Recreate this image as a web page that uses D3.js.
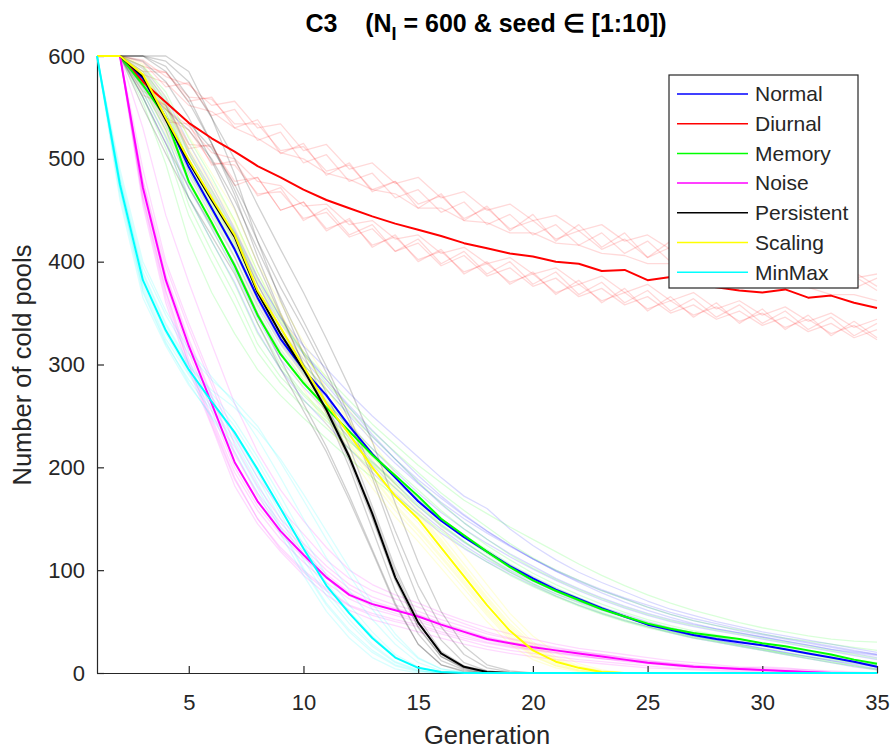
<!DOCTYPE html>
<html>
<head>
<meta charset="utf-8">
<script src="https://cdn.jsdelivr.net/npm/d3@7/dist/d3.min.js"></script>
<style>
  html, body { margin: 0; padding: 0; background: #fff; }
  svg { display: block; font-family: "Liberation Sans", Arial, Helvetica, sans-serif; }
</style>
</head>
<body>
<svg id="chart" width="893" height="749"></svg>
<script>
// Generations 1..35
const generations = d3.range(1, 36);

const seriesNames = ["Normal", "Diurnal", "Memory", "Noise", "Persistent", "Scaling", "MinMax"];
const seriesColors = ["#0000ff", "#ff0000", "#00ff00", "#ff00ff", "#000000", "#ffff00", "#00ffff"];

const yTicks = [0, 100, 200, 300, 400, 500, 600];
const xTicks = [5, 10, 15, 20, 25, 30, 35];

// Mean number of cold pools over the ten seeds
const meanNormal     = [600,600,578,540,492,452,412,365,325,295,270,240,213,190,167,148,132,118,104,92,81,72,63,55,47,42,37,33,30,27,23,19,15,11,6];
const meanDiurnal    = [600,600,575,555,535,520,507,493,482,470,460,452,444,437,431,425,418,413,408,405,400,398,391,392,382,385,378,375,372,370,373,365,367,360,355];
const meanMemory     = [600,600,572,540,478,438,396,348,310,282,258,235,212,192,172,150,134,118,103,90,80,71,62,55,48,43,39,36,33,29,26,22,18,13,9];
const meanNoise      = [600,600,472,382,318,262,205,167,138,115,93,76,67,61,55,47,40,33,29,25,22,19,16,13,10,8,6,5,4,3,2,1,0,0,0];
const meanPersistent = [600,600,580,538,497,460,424,370,330,295,256,210,155,93,49,19,6,1,0,0,0,0,0,0,0,0,0,0,0,0,0,0,0,0,0];
const meanScaling    = [600,600,582,540,499,462,426,372,336,298,262,232,200,172,150,122,94,66,41,22,11,5,1,0,0,0,0,0,0,0,0,0,0,0,0];
const meanMinMax     = [600,475,382,333,295,264,234,198,160,121,85,58,34,15,5,1,0,0,0,0,0,0,0,0,0,0,0,0,0,0,0,0,0,0,0];

// Individual seeds (runs end once they reach zero)
const seedsNormal = [
  [600,600,590,560,515,475,432,385,345,312,285,258,232,208,185,164,146,130,116,104,92,82,73,65,58,52,47,43,39,35,31,27,23,19,15],
  [600,600,565,522,472,432,392,345,305,278,255,228,202,180,158,140,124,110,98,87,77,69,61,54,47,41,36,32,28,24,20,16,12,8,4],
  [600,600,575,535,488,450,410,362,322,292,268,242,218,196,175,156,140,126,113,101,90,80,71,63,56,50,45,41,37,33,29,25,21,17,13],
  [600,600,585,552,505,465,425,378,340,310,285,260,236,214,192,172,154,138,124,111,99,88,78,69,61,54,48,43,39,35,31,27,23,20,17],
  [600,600,570,528,478,438,398,350,312,282,258,232,206,184,162,143,127,113,100,89,79,70,62,54,47,41,36,32,28,24,20,16,12,9,6],
  [600,600,580,545,498,460,420,372,334,305,280,254,230,208,188,170,153,138,124,111,99,89,80,72,64,57,51,46,41,37,33,29,25,21,18],
  [600,600,560,515,462,420,380,332,295,266,242,218,195,174,154,136,121,108,96,85,75,66,58,51,45,39,34,30,26,22,18,14,10,6,3],
  [600,600,578,540,492,452,412,366,328,300,276,250,226,204,184,166,150,136,123,111,100,90,81,73,66,59,53,48,43,38,34,30,26,22,18],
  [600,600,572,532,484,444,404,358,320,290,264,238,212,190,168,148,132,118,105,93,82,73,64,57,50,44,39,35,31,27,23,19,15,11,8],
  [600,600,588,555,508,470,430,384,346,318,296,272,250,230,210,190,172,160,140,124,110,98,88,79,70,62,56,50,45,40,36,32,28,24,20]
];
const seedsDiurnal = [
  [600,600,596,580,572,552,556,530,534,508,514,490,496,476,482,462,468,450,456,440,445,430,436,420,426,412,418,404,410,398,403,390,396,384,388],
  [600,600,585,584,556,560,530,538,505,515,484,496,468,478,452,466,440,454,430,446,420,436,414,428,404,420,396,412,390,404,384,396,378,390,376],
  [600,600,594,570,574,542,548,518,526,496,504,478,486,462,470,448,458,436,446,426,436,416,428,408,420,400,412,392,404,386,398,380,392,374,384],
  [600,600,590,584,560,558,534,534,508,512,488,494,470,478,456,464,442,452,432,440,422,430,412,422,404,414,396,406,390,398,384,392,378,386,372],
  [600,600,582,574,552,546,530,520,506,500,486,480,470,466,452,452,440,438,428,428,418,416,408,406,398,398,390,390,382,382,375,375,368,368,362],
  [600,600,578,536,534,494,498,464,472,440,452,426,436,410,422,398,410,388,400,378,390,368,380,360,372,352,364,346,358,340,352,334,346,328,340],
  [600,600,562,552,510,514,474,482,450,458,430,442,414,426,400,412,388,400,378,390,368,382,360,374,352,366,346,360,340,354,334,348,328,342,326],
  [600,600,574,540,528,496,494,466,468,442,448,424,432,410,418,396,406,386,394,376,384,366,374,358,366,350,358,344,352,338,346,332,340,326,334],
  [600,600,566,552,514,512,478,482,450,458,432,440,416,424,402,410,390,398,380,388,370,378,362,370,354,362,348,356,342,350,336,344,330,338,324],
  [600,600,580,548,532,506,500,478,474,454,456,436,440,422,426,408,414,398,404,388,394,378,386,370,378,362,370,354,362,348,356,342,350,336,344]
];
const seedsMemory = [
  [600,600,555,495,420,370,330,295,270,248,228,208,190,172,155,138,122,108,95,84,74,65,57,50,44,39,34,30,26,22,18,14,10,7,4],
  [600,600,580,550,495,455,415,365,325,292,265,240,214,192,170,150,132,116,102,90,79,70,62,55,48,43,38,34,30,27,24,20,16,12,8],
  [600,600,590,565,520,482,440,390,345,310,282,258,235,215,195,175,158,142,126,112,100,90,80,72,64,57,51,46,42,38,34,31,28,25,22],
  [600,600,565,520,455,410,368,320,288,265,245,225,205,186,168,150,134,120,106,94,83,73,64,56,49,43,38,34,30,26,22,18,14,10,6],
  [600,600,575,545,488,448,405,355,315,285,262,240,218,198,178,158,140,124,110,97,86,76,67,59,52,46,41,37,33,29,25,21,17,13,10],
  [600,600,585,558,505,468,428,382,342,312,288,265,242,222,202,185,168,155,142,130,118,106,95,85,76,68,61,55,49,44,40,36,33,31,30],
  [600,600,560,510,445,400,358,312,282,258,238,218,198,180,162,144,128,112,98,86,75,66,58,51,45,40,35,31,27,23,19,15,11,7,3],
  [600,600,572,538,475,432,390,340,300,272,250,230,210,190,170,150,133,117,103,90,79,70,62,55,49,44,39,35,31,27,23,19,15,11,7],
  [600,600,582,552,498,458,418,370,330,300,275,252,230,208,186,165,146,130,115,102,91,81,72,64,57,51,46,42,38,34,30,26,22,18,14],
  [600,600,568,528,462,420,378,330,296,270,248,226,204,184,164,145,128,113,99,87,77,68,59,52,45,40,35,31,27,23,19,16,13,10,7]
];
const seedsNoise = [
  [600,600,490,400,340,285,230,190,160,135,110,92,80,72,64,56,48,40,34,29,25,21,18,15,12,10,8,6,5,4,3,2,1,0],
  [600,600,460,365,300,245,190,150,120,98,80,65,56,50,45,38,32,26,22,19,16,13,11,9,7,5,4,3,2,1,0],
  [600,600,480,395,335,280,222,182,150,126,104,86,74,66,60,52,45,38,33,28,24,21,18,15,12,9,7,5,4,3,2,1,0],
  [600,600,465,372,305,248,195,158,130,108,88,72,62,56,50,43,36,30,26,23,20,17,14,11,9,7,5,4,3,2,1,0],
  [600,600,475,385,322,268,212,175,146,122,100,82,70,63,57,49,42,35,30,26,23,20,17,14,11,9,7,6,5,6,5,3,1,0],
  [600,600,455,360,295,240,182,145,118,95,76,61,52,46,40,34,28,23,19,16,13,11,9,7,5,4,3,2,1,0],
  [600,600,530,445,380,320,262,215,178,148,122,100,86,76,68,59,51,44,38,33,28,24,21,18,15,12,10,8,6,5,4,3,2,1,0],
  [600,600,470,378,312,255,200,162,135,112,92,75,65,58,52,45,38,32,27,23,20,17,14,12,10,8,6,5,4,3,2,1,0],
  [600,600,478,388,325,270,215,172,142,118,96,78,68,62,56,48,41,34,30,26,22,19,16,13,11,9,7,5,4,3,2,1,0],
  [600,600,462,370,300,242,188,150,122,100,82,66,58,52,47,40,34,29,25,22,19,16,14,12,10,8,6,5,4,3,2,1,0]
];
const seedsPersistent = [
  [600,600,600,590,560,515,465,405,350,300,252,200,140,80,38,12,3,0],
  [600,600,575,555,535,510,475,430,385,342,298,250,195,138,85,45,18,5,1,0],
  [600,600,570,548,528,500,460,412,365,318,272,220,162,102,54,21,7,2,0],
  [600,600,600,600,585,540,485,420,362,310,262,212,152,92,45,16,4,0],
  [600,600,560,515,472,435,398,350,305,262,220,172,120,68,28,8,1,0],
  [600,600,600,595,575,540,500,455,412,370,325,278,225,165,108,60,26,8,2,0],
  [600,600,550,505,462,425,388,340,296,255,215,168,118,66,28,8,2,0],
  [600,600,600,585,555,515,470,420,375,335,292,245,190,128,72,32,10,2,0],
  [600,600,580,540,500,460,428,378,335,296,258,212,158,98,50,18,5,1,0],
  [600,600,595,575,540,498,452,398,348,300,255,206,150,90,44,16,5,1,0]
];
const seedsScaling = [
  [600,600,590,555,515,478,440,390,350,312,276,244,212,182,156,130,102,74,48,28,14,6,2,0],
  [600,600,575,528,485,448,412,358,320,284,248,218,186,158,134,108,82,56,32,16,7,2,0],
  [600,600,585,548,508,470,434,380,344,306,270,240,208,178,154,128,100,72,46,26,13,5,1,0],
  [600,600,578,535,492,455,420,365,328,290,254,224,192,164,140,114,88,60,36,18,8,3,0],
  [600,600,588,550,510,474,438,385,348,312,276,246,214,184,160,134,106,78,52,30,16,7,2,0],
  [600,600,572,525,480,442,404,350,312,276,242,212,180,152,128,102,76,50,28,13,5,1,0],
  [600,600,592,560,522,486,450,398,360,322,286,256,224,194,168,142,114,86,58,36,20,9,3,0],
  [600,600,580,538,496,458,422,368,332,294,258,228,196,168,146,118,90,62,38,20,9,3,1,0],
  [600,600,584,545,504,466,430,376,340,302,266,236,204,176,152,126,98,70,44,24,12,5,1,0],
  [600,600,576,532,490,452,416,362,324,288,252,222,190,162,138,112,86,58,34,17,7,2,0]
];
const seedsMinMax = [
  [600,460,365,318,280,250,220,180,140,100,66,40,20,7,1,0],
  [600,470,375,325,290,258,228,190,150,110,75,48,26,10,2,0],
  [600,480,390,340,302,272,245,210,172,132,95,66,40,18,6,1,0],
  [600,490,400,352,315,288,262,228,190,150,112,80,52,28,10,2,0],
  [600,470,372,322,282,248,215,175,135,95,60,34,15,4,0],
  [600,478,385,335,298,275,258,236,208,174,138,102,68,38,15,4,0],
  [600,485,395,348,310,285,265,240,205,168,130,95,62,34,14,4,1,0],
  [600,465,370,320,285,255,225,185,142,102,68,42,22,8,2,0],
  [600,472,378,330,292,262,232,195,155,115,80,52,28,11,3,0],
  [600,482,388,338,300,268,240,205,165,125,88,60,36,16,5,1,0]
];

const means = [meanNormal, meanDiurnal, meanMemory, meanNoise, meanPersistent, meanScaling, meanMinMax];
const seeds = [seedsNormal, seedsDiurnal, seedsMemory, seedsNoise, seedsPersistent, seedsScaling, seedsMinMax];

const svg = d3.select("#chart");
const axisColor = "#262626";

const x = d3.scaleLinear().domain([1, 35]).range([97, 877]);
const y = d3.scaleLinear().domain([0, 600]).range([673, 56]);

const line = d3.line()
  .x((d, i) => x(generations[i]))
  .y(d => y(d));

// Individual seed runs, faint
const seedLayer = svg.append("g");
seeds.forEach((runs, s) => {
  seedLayer.selectAll(null)
    .data(runs)
    .join("path")
    .attr("d", line)
    .attr("fill", "none")
    .attr("stroke", seriesColors[s])
    .attr("stroke-opacity", s === 4 ? 0.18 : 0.15)
    .attr("stroke-width", 1.3)
    .attr("stroke-linejoin", "round");
});

// Axes (ticks point inward)
const yAxis = d3.axisLeft(y).tickValues(yTicks).tickSizeInner(-7).tickSizeOuter(0).tickPadding(12);
const xAxis = d3.axisBottom(x).tickValues(xTicks).tickSizeInner(-7).tickSizeOuter(0).tickPadding(21);

const gy = svg.append("g").attr("transform", "translate(97,0)").call(yAxis);
const gx = svg.append("g").attr("transform", "translate(0,673)").call(xAxis);
[gx, gy].forEach(g => {
  g.selectAll("path.domain").attr("stroke", axisColor).attr("stroke-width", 1.2);
  g.selectAll(".tick line").attr("stroke", axisColor).attr("stroke-width", 1.2);
  g.selectAll(".tick text").attr("fill", axisColor)
    .style("font-family", "'Liberation Sans', Arial, sans-serif")
    .style("font-size", "22px");
});

// Mean curves
const meanLayer = svg.append("g");
means.forEach((m, s) => {
  meanLayer.append("path")
    .datum(m)
    .attr("d", line)
    .attr("fill", "none")
    .attr("stroke", seriesColors[s])
    .attr("stroke-width", 2)
    .attr("stroke-linejoin", "round");
});

// Title
const title = svg.append("text")
  .attr("x", 486).attr("y", 32)
  .attr("text-anchor", "middle")
  .attr("fill", "#000")
  .style("font-size", "25px")
  .style("font-weight", "bold")
  .style("white-space", "pre");
title.append("tspan").text("C3    (N");
title.append("tspan").attr("dy", 8).style("font-size", "18px").text("I");
title.append("tspan").attr("dy", -8).text(" = 600 & seed \u2208 [1:10])");

// Axis labels
svg.append("text")
  .attr("x", 487).attr("y", 744)
  .attr("text-anchor", "middle")
  .attr("fill", axisColor)
  .style("font-size", "25.5px")
  .text("Generation");

svg.append("text")
  .attr("transform", "translate(31,365) rotate(-90)")
  .attr("text-anchor", "middle")
  .attr("fill", axisColor)
  .style("font-size", "25.5px")
  .text("Number of cold pools");

// Legend
const legend = svg.append("g");
legend.append("rect")
  .attr("x", 669).attr("y", 75).attr("width", 189).attr("height", 213)
  .attr("fill", "#fff").attr("stroke", axisColor).attr("stroke-width", 1.2);
seriesNames.forEach((name, i) => {
  const cy = 94 + i * 29.7;
  legend.append("line")
    .attr("x1", 677).attr("x2", 748).attr("y1", cy).attr("y2", cy)
    .attr("stroke", seriesColors[i]).attr("stroke-width", 1.5);
  legend.append("text")
    .attr("x", 755).attr("y", cy).attr("dy", "0.35em")
    .attr("fill", axisColor)
    .style("font-size", "21px")
    .text(name);
});
</script>
</body>
</html>
